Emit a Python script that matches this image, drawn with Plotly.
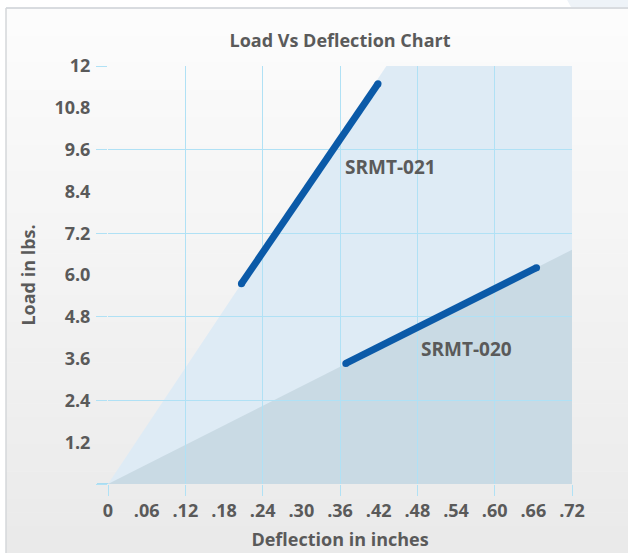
import plotly.graph_objects as go

# ---- data ----
srmt021_x = [0.207, 0.419]
srmt021_y = [5.75, 11.49]
srmt020_x = [0.369, 0.665]
srmt020_y = [3.46, 6.21]

# shaded regions (upper boundary lines from origin)
light_x = [0.0, 0.432, 0.72, 0.72]
light_y = [0.0, 12.0, 12.0, 0.0]
dark_x = [0.0, 0.725, 0.725]
dark_y = [0.0, 6.77, 0.0]

x_label_vals = [0, 0.06, 0.12, 0.18, 0.24, 0.30, 0.36, 0.42, 0.48, 0.54, 0.60, 0.66, 0.72]
x_label_text = ["0", ".06", ".12", ".18", ".24", ".30", ".36", ".42", ".48", ".54", ".60", ".66", ".72"]
y_label_vals = [1.2, 2.4, 3.6, 4.8, 6.0, 7.2, 8.4, 9.6, 10.8, 12]
y_label_text = ["1.2", "2.4", "3.6", "4.8", "6.0", "7.2", "8.4", "9.6", "10.8", "12"]

series_labels = ["SRMT-021", "SRMT-020"]
series_label_x = [0.439, 0.556]
series_label_y = [9.10, 3.88]

W, H = 628, 553
ML, MR, MT, MB = 108, 56, 66, 69
PW, PH = W - ML - MR, H - MT - MB

FONT = "Open Sans"
TXT = "#5a5a5a"
GRID = "#b0e1f5"
LINE = "#0b5aa8"

def px2paper_x(px):
    return (px - ML) / PW

def px2paper_y(py):
    return (H - MB - py) / PH

fig = go.Figure()

# series lines (markers give rounded ends)
for xs, ys in [(srmt021_x, srmt021_y), (srmt020_x, srmt020_y)]:
    fig.add_trace(go.Scatter(x=xs, y=ys, mode="lines+markers",
                             line=dict(color=LINE, width=7),
                             marker=dict(color=LINE, size=7),
                             hoverinfo="skip", showlegend=False))

# invisible trace on overlay axes for tick labels
fig.add_trace(go.Scatter(x=[0, 0.72], y=[0, 12], xaxis="x2", yaxis="y2",
                         mode="markers", marker=dict(opacity=0),
                         hoverinfo="skip", showlegend=False))

shapes = []
# background gradient bands
n = 40
top_px, bot_px = 8, H
for i in range(n):
    y0p = top_px + (bot_px - top_px) * i / n
    y1p = top_px + (bot_px - top_px) * (i + 1) / n
    t = i / (n - 1)
    c = int(round(252 - t * (252 - 234)))
    shapes.append(dict(type="rect", xref="paper", yref="paper",
                       x0=px2paper_x(6), x1=px2paper_x(W + 2),
                       y0=px2paper_y(y1p + 0.5), y1=px2paper_y(y0p),
                       fillcolor=f"rgb({c},{c},{c})", line=dict(width=0),
                       layer="below"))
# border lines
shapes.append(dict(type="line", xref="paper", yref="paper",
                   x0=px2paper_x(6), x1=px2paper_x(W + 2), y0=px2paper_y(8), y1=px2paper_y(8),
                   line=dict(color="#cdd1d6", width=1.5), layer="below"))
shapes.append(dict(type="line", xref="paper", yref="paper",
                   x0=px2paper_x(6), x1=px2paper_x(6), y0=px2paper_y(8), y1=px2paper_y(H + 2),
                   line=dict(color="#d4d7da", width=1.5), layer="below"))
# top-right decorative tint
shapes.append(dict(type="path", xref="paper", yref="paper",
                   path=f"M {px2paper_x(566)},{px2paper_y(-2)} L {px2paper_x(W+2)},{px2paper_y(-2)} "
                        f"L {px2paper_x(W+2)},{px2paper_y(7)} L {px2paper_x(571)},{px2paper_y(7)} Z",
                   fillcolor="#eef3f8", line=dict(width=0), layer="below"))

def poly_path(xs, ys):
    pts = " L ".join(f"{x},{y}" for x, y in zip(xs, ys))
    return f"M {pts} Z"

shapes.append(dict(type="path", xref="x", yref="y", path=poly_path(light_x, light_y),
                   fillcolor="#deebf5", line=dict(width=0), layer="below"))
shapes.append(dict(type="path", xref="x", yref="y", path=poly_path(dark_x, dark_y),
                   fillcolor="#c9dae4", line=dict(width=0), layer="below"))

annotations = []
for txt, ax, ay in zip(series_labels, series_label_x, series_label_y):
    annotations.append(dict(x=ax, y=ay, xref="x", yref="y", text=txt, showarrow=False,
                            font=dict(family=FONT, size=19, color=TXT, weight="bold")))

fig.update_layout(
    width=W, height=H,
    margin=dict(l=ML, r=MR, t=MT, b=MB, autoexpand=False),
    paper_bgcolor="white",
    plot_bgcolor="rgba(0,0,0,0)",
    shapes=shapes,
    annotations=annotations,
    title=dict(text="Load Vs Deflection Chart", x=0.5, xref="paper", xanchor="center",
               y=1 - 41 / H, yref="container", yanchor="middle",
               font=dict(family=FONT, size=18, color=TXT, weight="bold")),
    xaxis=dict(range=[0, 0.72], dtick=0.12, tick0=0, showgrid=True, gridcolor=GRID, gridwidth=1.3,
               ticks="outside", ticklen=11, tickcolor=GRID, tickwidth=1.3, automargin=False,
               showticklabels=False, zeroline=False, showline=False, fixedrange=True),
    yaxis=dict(range=[0, 12], dtick=2.4, tick0=0, showgrid=True, gridcolor=GRID, gridwidth=1.3,
               ticks="outside", ticklen=11, tickcolor=GRID, tickwidth=1.3, automargin=False,
               showticklabels=False, zeroline=False, showline=False, fixedrange=True),
    xaxis2=dict(overlaying="x", side="bottom", range=[0, 0.72], tickmode="array",
                tickvals=x_label_vals, ticktext=x_label_text, showgrid=False, zeroline=False,
                ticks="outside", ticklen=10, tickcolor="rgba(0,0,0,0)", automargin=False,
                tickfont=dict(family=FONT, size=18, color=TXT, weight="bold"),
                title=dict(text="Deflection in inches", standoff=12,
                           font=dict(family=FONT, size=18, color=TXT, weight="bold")),
                fixedrange=True),
    yaxis2=dict(overlaying="y", side="left", range=[0, 12], tickmode="array",
                tickvals=y_label_vals, ticktext=y_label_text, showgrid=False, zeroline=False,
                ticks="outside", ticklen=13, tickcolor="rgba(0,0,0,0)", automargin=False,
                tickfont=dict(family=FONT, size=18, color=TXT, weight="bold"),
                title=dict(text="Load in lbs.", standoff=14,
                           font=dict(family=FONT, size=18, color=TXT, weight="bold")),
                fixedrange=True),
    showlegend=False,
)

# x-axis baseline (cyan) at y=0 extending left over tick area
fig.add_shape(type="line", xref="paper", yref="y", x0=px2paper_x(97), x1=1.0, y0=0, y1=0,
              line=dict(color="#a9dcf1", width=2), layer="below")

fig.write_html("out.html", config={"displayModeBar": False},
               post_script="document.body.style.margin='0';document.body.style.padding='0';")
